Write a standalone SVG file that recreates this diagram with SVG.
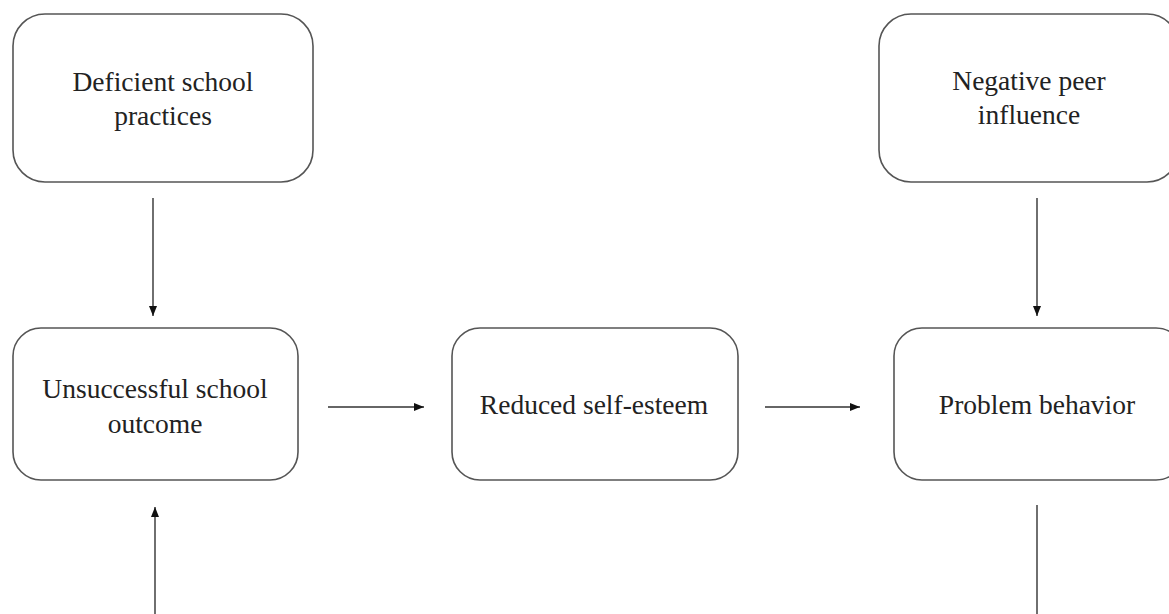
<svg xmlns="http://www.w3.org/2000/svg" width="1169" height="614" viewBox="0 0 1169 614">
<style>
.box{fill:#fff;stroke:#555;stroke-width:1.6}
.t{font-family:"Liberation Serif","Times New Roman",serif;font-size:27.5px;fill:#222;text-anchor:middle}
.c{stroke:#333;stroke-width:1.4;fill:none}
</style>
<defs>
<marker id="ah" viewBox="0 0 10 10" refX="10" refY="5" markerWidth="10" markerHeight="10" markerUnits="userSpaceOnUse" orient="auto">
<path d="M0,1 L10,5 L0,9 Z" fill="#111"/>
</marker>
</defs>
<rect width="1169" height="614" fill="#fff"/>
<g id="n1"><rect class="box" x="13" y="14" width="300" height="168" rx="32"/><text class="t" x="163" y="91">Deficient school</text><text class="t" x="163" y="125">practices</text></g>
<g id="n2"><rect class="box" x="879" y="14" width="300" height="168" rx="32"/><text class="t" x="1029" y="90">Negative peer</text><text class="t" x="1029" y="124">influence</text></g>
<g id="n3"><rect class="box" x="13" y="328" width="285" height="152" rx="28"/><text class="t" x="155" y="398">Unsuccessful school</text><text class="t" x="155" y="433">outcome</text></g>
<g id="n4"><rect class="box" x="452" y="328" width="286" height="152" rx="28"/><text class="t" x="594" y="414">Reduced self-esteem</text></g>
<g id="n5"><rect class="box" x="894" y="328" width="290" height="152" rx="28"/><text class="t" x="1037" y="414">Problem behavior</text></g>
<g id="connectors">
<line class="c" x1="153" y1="198" x2="153" y2="316" marker-end="url(#ah)"/>
<line class="c" x1="1037" y1="198" x2="1037" y2="316" marker-end="url(#ah)"/>
<line class="c" x1="328" y1="407" x2="424" y2="407" marker-end="url(#ah)"/>
<line class="c" x1="765" y1="407" x2="860" y2="407" marker-end="url(#ah)"/>
<line class="c" x1="155" y1="614" x2="155" y2="507" marker-end="url(#ah)"/>
<line class="c" x1="1037" y1="505" x2="1037" y2="614"/>
</g>
</svg>
